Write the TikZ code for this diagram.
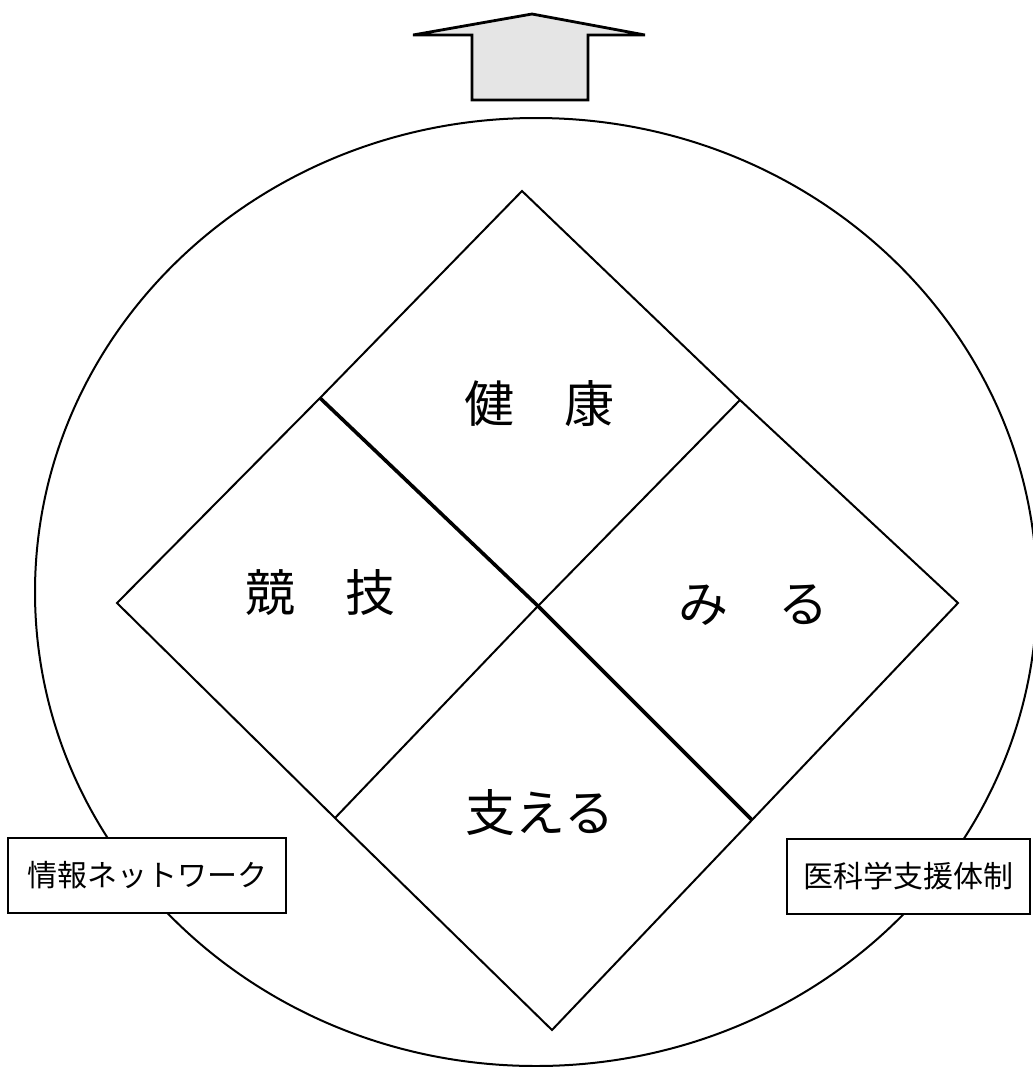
\documentclass[tikz,border=0pt]{standalone}
\usepackage{fontspec}
\newfontfamily\jp{Noto Sans CJK JP}
\usetikzlibrary{shapes.geometric}
\begin{document}
\begin{tikzpicture}[x=0.5pt,y=-0.5pt,
  line/.style={line width=1pt},
  bold/.style={line width=1.8pt},
  big/.style={font=\jp\fontsize{25pt}{25pt}\selectfont, inner sep=0},
  tag/.style={draw, line width=1pt, fill=white, font=\jp\fontsize{15pt}{15pt}\selectfont,
    minimum height=37.5pt, inner sep=0}
]
\useasboundingbox (0,0) rectangle (1033,1067);
\clip (0,0) rectangle (1033,1067);
% up arrow
\coordinate (a1) at (532,14);
\coordinate (a2) at (645,35);
\coordinate (a3) at (588,35);
\coordinate (a4) at (588,100);
\coordinate (a5) at (472,100);
\coordinate (a6) at (472,35);
\coordinate (a7) at (413,35);
\draw[line width=1.4pt, fill=black!10, line join=miter] (a1) -- (a2) -- (a3) -- (a4) -- (a5) -- (a6) -- (a7) -- cycle;
% ring
\node[draw, line width=1pt, ellipse, minimum width=501pt, minimum height=474pt, inner sep=0] (ring) at (536,592) {};
% diamond
\coordinate (T) at (522,191);
\coordinate (L) at (117,603);
\coordinate (R) at (958,603);
\coordinate (B) at (552,1030);
\coordinate (C) at (538,606);
\coordinate (TL) at (320,398);
\coordinate (TR) at (740,400);
\coordinate (BL) at (335,818);
\coordinate (BR) at (752,820);
\draw[line] (T) -- (TR) -- (R) -- (BR) -- (B) -- (BL) -- (L) -- (TL) -- cycle;
\draw[line] (TR) -- (C) -- (BL);
\draw[bold] (TL) -- (C) -- (BR);
% labels
\node[big] (kenko) at (539,404) {健　康};
\node[big] (kyogi) at (320,593) {競　技};
\node[big] (miru) at (753,605) {み　る};
\node[big] (sasaeru) at (540,813) {支える};
% side boxes
\node[tag, minimum width=139pt] (info) at (147,875.5) {情報ネットワーク};
\node[tag, minimum width=121.5pt] (med) at (908.5,876.5) {医科学支援体制};
\end{tikzpicture}
\end{document}
